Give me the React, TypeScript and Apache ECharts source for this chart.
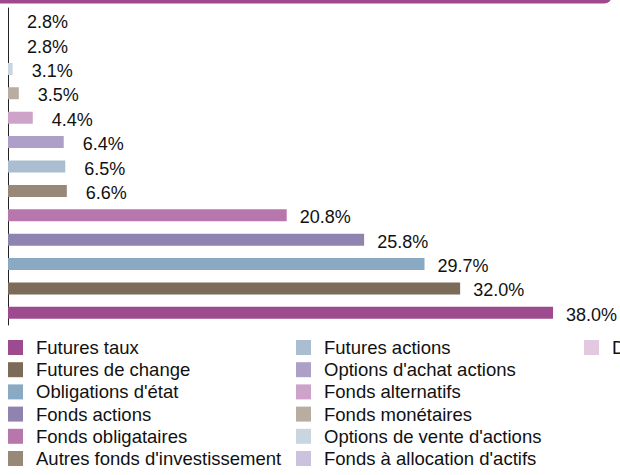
import React, { useEffect, useRef } from "react";
import * as echarts from "echarts";

const categories = [
  "Futures taux",
  "Futures de change",
  "Obligations d'état",
  "Fonds actions",
  "Fonds obligataires",
  "Autres fonds d'investissement",
  "Futures actions",
  "Options d'achat actions",
  "Fonds alternatifs",
  "Fonds monétaires",
  "Options de vente d'actions",
  "Fonds à allocation d'actifs",
  "Dérivés de crédit",
];

const values = [38.0, 32.0, 29.7, 25.8, 20.8, 6.6, 6.5, 6.4, 4.4, 3.5, 3.1, 2.8, 2.8];

const colors = [
  "#9e4a8e",
  "#7b6b58",
  "#8aaac4",
  "#8f84b0",
  "#b777ad",
  "#988877",
  "#aabdd1",
  "#ae9fc8",
  "#cea3ca",
  "#b8ada1",
  "#c9d5e1",
  "#cbc3de",
  "#e2c9e1",
];

const legendColumns = [
  categories.slice(0, 6),
  categories.slice(6, 12),
  categories.slice(12),
];

export default function App() {
  const ref = useRef<HTMLDivElement>(null);

  useEffect(() => {
    document.body.style.margin = "0";
    if (!ref.current) return;
    const chart = echarts.init(ref.current, null, { renderer: "svg" });

    const font = "'Liberation Sans', Arial, sans-serif";

    const series = categories.map((name, i) => ({
      name,
      type: "bar",
      barWidth: 12,
      barGap: "-100%",
      data: categories.map((_, j) => (j === i ? values[i] : "-")),
      itemStyle: { color: colors[i] },
      label: {
        show: true,
        position: "right",
        distance: values[i] >= 10 ? 13 : 19,
        offset: [0, 2],
        color: "#111",
        fontSize: 18,
        fontFamily: font,
        formatter: (p: any) => Number(p.value).toFixed(1) + "%",
      },
    }));

    const legendX = [8, 296, 584];

    chart.setOption({
      animation: false,
      grid: { left: 8, top: 8, width: 576, height: 317, containLabel: false },
      xAxis: {
        type: "value",
        min: 2.8,
        max: 40,
        show: false,
      },
      yAxis: {
        type: "category",
        data: categories,
        axisLine: { show: true, lineStyle: { color: "#222", width: 1 } },
        axisTick: { show: false },
        axisLabel: { show: false },
        splitLine: { show: false },
      },
      legend: legendColumns.map((col, k) => ({
        data: col,
        orient: "vertical",
        left: legendX[k],
        top: 338,
        height: 137,
        width: 400,
        itemWidth: 15,
        itemHeight: 15,
        itemGap: 3.2,
        icon: "rect",
        selectedMode: false,
        padding: 0,
        textStyle: {
          fontSize: 18.5,
          fontFamily: font,
          color: "#111",
          lineHeight: 15,
          padding: [0, 0, 0, 8],
        },
      })),
      graphic: [
        {
          type: "rect",
          shape: { x: -10, y: -20, width: 622, height: 23.5, r: 8 },
          style: { fill: "#a0488e" },
        },
      ],
      series,
    });

    return () => chart.dispose();
  }, []);

  return <div ref={ref} style={{ width: 620, height: 475 }} />;
}
